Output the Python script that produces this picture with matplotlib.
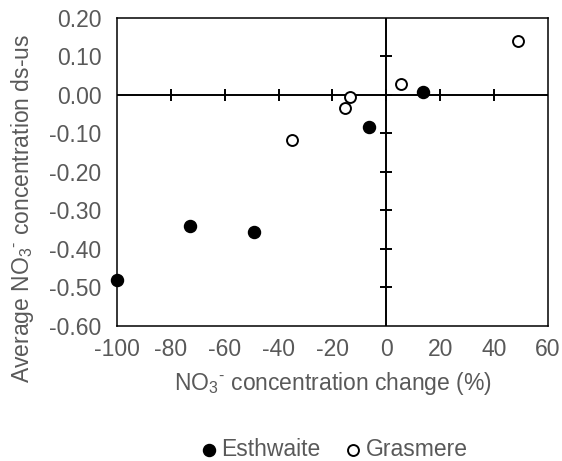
import matplotlib
matplotlib.use('Agg')
import matplotlib.pyplot as plt

plt.rcParams['font.family'] = ['Liberation Sans', 'DejaVu Sans']
plt.rcParams['mathtext.fontset'] = 'custom'
plt.rcParams['mathtext.rm'] = 'Liberation Sans'
plt.rcParams['mathtext.it'] = 'Liberation Sans'
plt.rcParams['axes.unicode_minus'] = False

# data
esth_x = [-100, -73, -49, -6.5, 13.5]
esth_y = [-0.48, -0.34, -0.355, -0.083, 0.008]
gras_x = [-35, -15.5, -13.5, 5.5, 49]
gras_y = [-0.118, -0.034, -0.006, 0.029, 0.14]

xticks = [-100, -80, -60, -40, -20, 0, 20, 40, 60]
yticks = [-0.6, -0.5, -0.4, -0.3, -0.2, -0.1, 0.0, 0.1, 0.2]

grey = '#595959'
fs = 16.5

fig = plt.figure(figsize=(5.62, 4.61), dpi=100)
ax = fig.add_axes([0.208, 0.293, 0.767, 0.668])

ax.set_xlim(-100, 60)
ax.set_ylim(-0.6, 0.2)
ax.set_xticks(xticks)
ax.set_yticks(yticks)
ax.set_yticklabels([f'{v:.2f}' for v in yticks])
ax.tick_params(length=0, labelsize=fs, labelcolor=grey)
ax.tick_params(axis='y', pad=11)
ax.tick_params(axis='x', pad=9)
for s in ax.spines.values():
    s.set_linewidth(1.1)
    s.set_color('black')

# axes crossing at zero, with cross ticks
ax.axhline(0, color='black', lw=1.4, zorder=1)
ax.axvline(0, color='black', lw=1.4, zorder=1)
ax.plot(xticks[1:-1], [0] * (len(xticks) - 2), ls='none', marker='|',
        ms=9, mew=1.4, color='black', zorder=1)
ax.plot([0] * (len(yticks) - 2), yticks[1:-1], ls='none', marker='_',
        ms=9, mew=1.4, color='black', zorder=1)

ax.scatter(esth_x, esth_y, s=75, color='black', label='Esthwaite',
           zorder=3, clip_on=False)
ax.scatter(gras_x, gras_y, s=62, facecolor='white', edgecolor='black',
           linewidth=1.4, label='Grasmere', zorder=3, clip_on=False)

ax.set_xlabel(r'NO$_3$$^{\text{-}}$ concentration change (%)', fontsize=fs,
              color=grey, labelpad=6)
ax.set_ylabel(r'Average NO$_3$$^{\text{-}}$ concentration ds-us', fontsize=fs,
              color=grey)
ax.yaxis.set_label_coords(-0.188, 0.38)

leg = ax.legend(loc='center', bbox_to_anchor=(0.5, -0.4), ncol=2,
                frameon=False, fontsize=fs, handletextpad=0.05,
                columnspacing=0.9, handlelength=1.0)
for t in leg.get_texts():
    t.set_color(grey)

fig.savefig('out.png', dpi=100)
